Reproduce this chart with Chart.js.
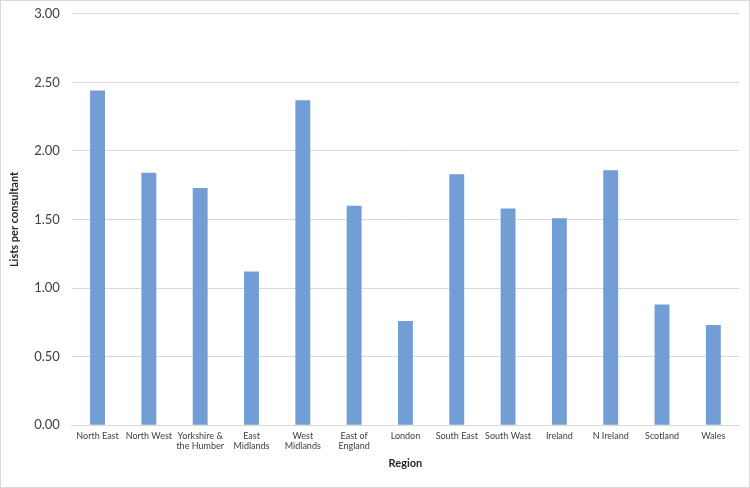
<!DOCTYPE html>
<html>
<head>
<meta charset="utf-8">
<script src="https://cdn.jsdelivr.net/npm/chart.js@4"></script>
<style>
  html, body { margin: 0; padding: 0; background: #fff; }
  #wrap { position: relative; width: 748px; height: 486px; border: 1px solid #d9d9d9; overflow: hidden; }
  #myChart { display: block; margin-top: -7px; }
</style>
</head>
<body>
<div id="wrap"><canvas id="myChart" width="748" height="493"></canvas></div>
<script>
// regions and values
var regions = [
  "North East", "North West", ["Yorkshire &", "the Humber"], ["East", "Midlands"],
  ["West", "Midlands"], ["East of", "England"], "London", "South East", "South Wast",
  "Ireland", "N Ireland", "Scotland", "Wales"
];
var listsPerConsultant = [2.44, 1.84, 1.73, 1.12, 2.37, 1.60, 0.76, 1.83, 1.58, 1.51, 1.86, 0.88, 0.73];

var fontFamily = "Lato, 'Open Sans', sans-serif";

var ctx = document.getElementById('myChart').getContext('2d');
var myChart = new Chart(ctx, {
  type: 'bar',
  data: {
    labels: regions,
    datasets: [{
      label: 'Lists per consultant',
      data: listsPerConsultant,
      backgroundColor: 'rgb(114,157,213)',
      borderWidth: 0,
      barPercentage: 0.58,
      categoryPercentage: 0.5
    }]
  },
  options: {
    responsive: false,
    animation: false,
    layout: { padding: { left: 3, right: 10, top: 0, bottom: 13 } },
    plugins: {
      legend: { display: false },
      tooltip: { enabled: false }
    },
    scales: {
      x: {
        grid: { display: false, drawTicks: false },
        border: { color: '#d9d9d9', width: 1 },
        ticks: {
          color: '#404040',
          font: { family: fontFamily, size: 9 },
          maxRotation: 0,
          autoSkip: false,
          padding: 5
        },
        title: {
          display: true,
          text: 'Region',
          color: '#262626',
          font: { family: fontFamily, size: 11, weight: 'bold' },
          padding: { top: 0 }
        }
      },
      y: {
        min: 0,
        max: 3,
        grid: { color: '#d9d9d9', drawTicks: false },
        border: { display: false },
        ticks: {
          stepSize: 0.5,
          color: '#404040',
          font: { family: fontFamily, size: 13 },
          padding: 12,
          callback: function (v) { return v.toFixed(2); }
        },
        title: {
          display: true,
          text: 'Lists per consultant',
          color: '#262626',
          font: { family: fontFamily, size: 11, weight: 'bold' },
          padding: { bottom: 1 }
        }
      }
    }
  }
});
</script>
</body>
</html>
